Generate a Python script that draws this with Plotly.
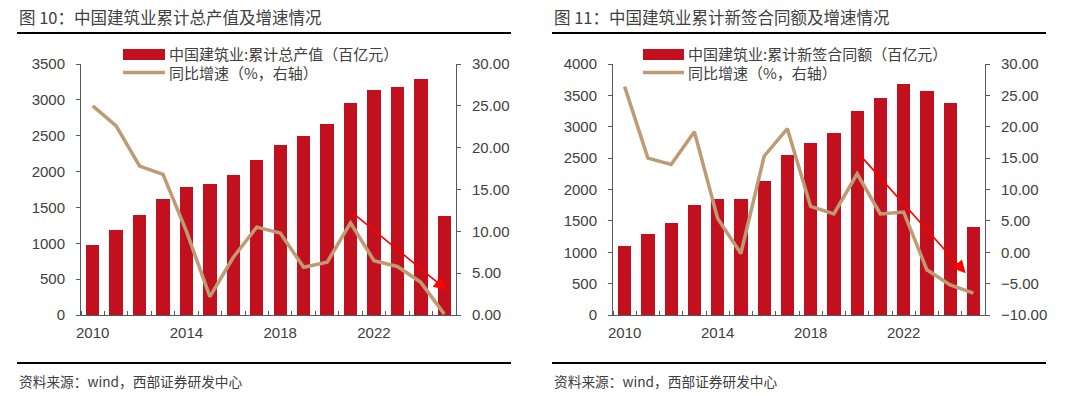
import plotly.graph_objects as go

# ---------------- data ----------------
years = list(range(2010, 2026))
output_value = [976, 1185, 1398, 1621, 1789, 1826, 1956, 2160, 2370, 2500,
                2658, 2951, 3137, 3174, 3286, 1384]
output_growth = [25.0, 22.6, 17.8, 16.8, 10.0, 2.2, 6.9, 10.5, 9.8, 5.7,
                 6.3, 11.0, 6.5, 5.8, 3.9, 0.1]
contract_value = [1105, 1296, 1471, 1753, 1854, 1849, 2136, 2555, 2737, 2901,
                  3257, 3454, 3677, 3566, 3384, 1398]
contract_growth = [26.4, 15.0, 14.0, 19.2, 5.4, -0.2, 15.3, 19.7, 7.3, 6.1,
                   12.5, 6.1, 6.4, -2.8, -5.2, -6.5]
year_ticks = [2010, 2014, 2018, 2022]
left_ticks = [0, 500, 1000, 1500, 2000, 2500, 3000, 3500]
left2_ticks = [0, 5, 10, 15, 20, 25, 30]
right_ticks = [0, 500, 1000, 1500, 2000, 2500, 3000, 3500, 4000]
right2_ticks = [-10, -5, 0, 5, 10, 15, 20, 25, 30]
# trend arrows: (x_tail, y_tail, x_head, y_head) in axis units
arrow_left = (2021.05, 12.3, 2025.1, 3.0)
arrow_right = (2020.05, 15.8, 2024.67, -3.35)

title_left = "图 10：中国建筑业累计总产值及增速情况"
title_right = "图 11：中国建筑业累计新签合同额及增速情况"
legend_bar_left = "中国建筑业:累计总产值（百亿元）"
legend_bar_right = "中国建筑业:累计新签合同额（百亿元）"
legend_line = "同比增速（%，右轴）"
source = "资料来源：wind，西部证券研发中心"

# ---------------- style ----------------
W, H = 1080, 396
BAR = "#C3101E"
LINE = "#BD9B74"
TXT = "#404040"
AX = "#595959"
CJK = "Noto Sans CJK SC"
NUM = "Liberation Sans, Arial"


def px(x):
    return x / W


def py(y):
    return 1 - y / H


fig = go.Figure()
fig.add_trace(go.Bar(x=years, y=output_value, marker_color=BAR, width=0.57,
                     xaxis="x", yaxis="y", showlegend=False))
fig.add_trace(go.Scatter(x=years, y=output_growth, mode="lines",
                         line=dict(color=LINE, width=3.5),
                         xaxis="x", yaxis="y2", showlegend=False))
fig.add_trace(go.Bar(x=years, y=contract_value, marker_color=BAR, width=0.57,
                     xaxis="x2", yaxis="y3", showlegend=False))
fig.add_trace(go.Scatter(x=years, y=contract_growth, mode="lines",
                         line=dict(color=LINE, width=3.5),
                         xaxis="x2", yaxis="y4", showlegend=False))

ydom = [py(315), py(64)]
tickfont = dict(family=NUM, size=15, color=TXT)


def xaxis_cfg(dom, anchor):
    return dict(domain=dom, anchor=anchor, range=[years[0] - 0.5, years[-1] + 0.5],
                tickmode="array", tickvals=year_ticks, ticks="", automargin=False,
                showline=True, linecolor=AX, linewidth=1, showgrid=False,
                zeroline=False, tickfont=tickfont, ticklabelstandoff=4,
                minor=dict(tickmode="linear", tick0=years[0] - 0.5, dtick=1,
                           ticks="inside", ticklen=4, tickcolor=AX,
                           showgrid=False))


def yaxis_cfg(rng, vals, fmt, side, anchor, overlaying=None):
    d = dict(domain=ydom, anchor=anchor, range=rng, tickmode="array",
             tickvals=vals, tickformat=fmt, side=side, ticks="outside",
             ticklen=4, tickcolor=AX, showline=True, linecolor=AX,
             linewidth=1, showgrid=False, zeroline=False, tickfont=tickfont,
             ticklabelstandoff=8, automargin=False)
    if overlaying:
        d["overlaying"] = overlaying
    return d


fig.update_layout(
    template="none",
    width=W, height=H, autosize=False, margin=dict(l=0, r=0, t=0, b=0, pad=0),
    paper_bgcolor="white", plot_bgcolor="rgba(0,0,0,0)",
    bargap=0, showlegend=False,
    xaxis=xaxis_cfg([px(81), px(456)], "y"),
    yaxis=yaxis_cfg([0, 3500], left_ticks, "d", "left", "x"),
    yaxis2=yaxis_cfg([0, 30], left2_ticks, ".2f", "right", "x", "y"),
    xaxis2=xaxis_cfg([px(613), px(985)], "y3"),
    yaxis3=yaxis_cfg([0, 4000], right_ticks, "d", "left", "x2"),
    yaxis4=yaxis_cfg([-10, 30], right2_ticks, ".2f", "right", "x2", "y3"),
)

shapes = []
annotations = []

for x0, x1 in [(17, 511), (552, 1046)]:
    for yy in [33, 363]:
        shapes.append(dict(type="line", xref="paper", yref="paper",
                           x0=px(x0), x1=px(x1), y0=py(yy), y1=py(yy),
                           line=dict(color="black", width=2)))

for xs, title, lbar in [(17, title_left, legend_bar_left),
                        (552, title_right, legend_bar_right)]:
    annotations.append(dict(xref="paper", yref="paper", x=px(xs), y=py(17),
                            xanchor="left", yanchor="middle", showarrow=False,
                            text=title, font=dict(family=CJK, size=16.5, color=TXT)))
    annotations.append(dict(xref="paper", yref="paper", x=px(xs), y=py(381),
                            xanchor="left", yanchor="middle", showarrow=False,
                            text=source, font=dict(family=CJK, size=13.7, color=TXT)))

for sx0, sx1, tx, lbar in [(123, 165, 167, legend_bar_left),
                           (643, 684, 686, legend_bar_right)]:
    shapes.append(dict(type="rect", xref="paper", yref="paper",
                       x0=px(sx0), x1=px(sx1), y0=py(60), y1=py(49),
                       fillcolor=BAR, line=dict(width=0)))
    shapes.append(dict(type="line", xref="paper", yref="paper",
                       x0=px(sx0), x1=px(sx1), y0=py(72.5), y1=py(72.5),
                       line=dict(color=LINE, width=3.5)))
    annotations.append(dict(xref="paper", yref="paper", x=px(tx), y=py(54),
                            xanchor="left", yanchor="middle", showarrow=False,
                            text=lbar, font=dict(family=CJK, size=15, color=TXT)))
    annotations.append(dict(xref="paper", yref="paper", x=px(tx), y=py(72.5),
                            xanchor="left", yanchor="middle", showarrow=False,
                            text=legend_line, font=dict(family=CJK, size=15, color=TXT)))

for (xt, yt, xh, yh), xr, yr in [(arrow_left, "x", "y2"), (arrow_right, "x2", "y4")]:
    annotations.append(dict(xref=xr, yref=yr, axref=xr, ayref=yr,
                            x=xh, y=yh, ax=xt, ay=yt, text="", showarrow=True,
                            arrowhead=2, arrowsize=1.6, arrowwidth=1.6,
                            arrowcolor="#FF0000"))

fig.update_layout(shapes=shapes, annotations=annotations)

fig.write_html("out.html", config={"displayModeBar": False},
               post_script="document.body.style.margin='0';")
